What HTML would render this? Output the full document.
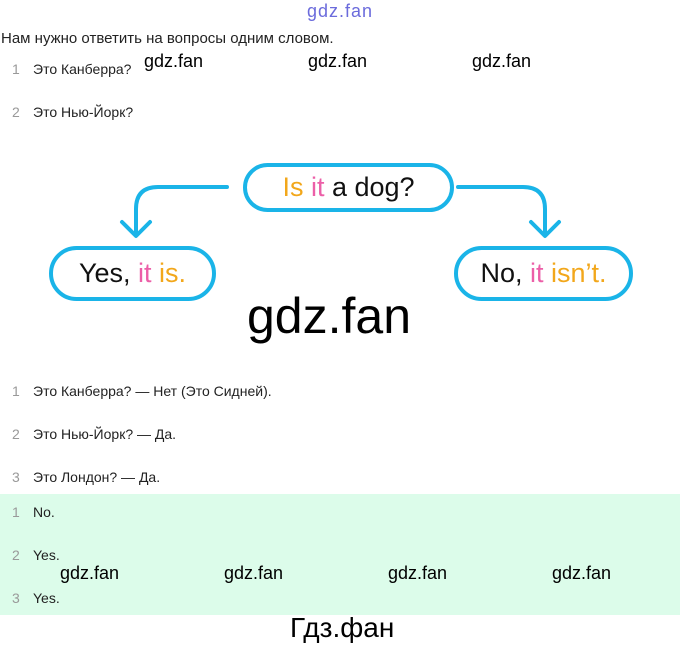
<!DOCTYPE html>
<html><head><meta charset="utf-8"><style>
body{margin:0;width:680px;height:648px;background:#fff;position:relative;overflow:hidden;font-family:"Liberation Sans","DejaVu Sans",sans-serif;color:#222}
.a{position:absolute;white-space:nowrap}
.t{font-size:14px;color:#222}
.n{font-size:14px;color:#999}
.w{font-size:18px;color:#000}
.g{position:absolute;left:0;top:494px;width:680px;height:121px;background:#dcfcea}
.p{position:absolute;border:4px solid #1ab4e8;border-radius:30px;box-sizing:border-box;font-size:27px;color:#111;text-align:center}
.o{color:#f2a71b}.k{color:#ec5fa8}
</style></head><body>
<div class="a" style="left:307px;top:1px;font-size:18px;color:#6b6bdc;letter-spacing:1px">gdz.fan</div>
<div class="a t" style="left:1px;top:30px;font-size:15px">Нам нужно ответить на вопросы одним словом.</div>
<div class="a n" style="left:12px;top:61px">1</div><div class="a t" style="left:33px;top:61px">Это Канберра?</div>
<div class="a n" style="left:12px;top:104px">2</div><div class="a t" style="left:33px;top:104px">Это Нью-Йорк?</div>
<div class="a w" style="left:144px;top:51px">gdz.fan</div>
<div class="a w" style="left:308px;top:51px">gdz.fan</div>
<div class="a w" style="left:472px;top:51px">gdz.fan</div>

<div class="p" style="left:243px;top:163px;width:211px;height:49px;line-height:41px"><span class="o">Is</span> <span class="k">it</span> a dog?</div>
<div class="p" style="left:49px;top:246px;width:167px;height:55px;line-height:47px">Yes, <span class="k">it</span> <span class="o">is.</span></div>
<div class="p" style="left:454px;top:246px;width:179px;height:55px;line-height:47px">No, <span class="k">it</span> <span class="o">isn’t.</span></div>
<svg class="a" style="left:0;top:0" width="680" height="648">
<g fill="none" stroke="#1ab4e8" stroke-width="4" stroke-linecap="round" stroke-linejoin="round">
<path d="M227 187 H158 Q136 187 136 209 V235"/><path d="M122 222 L136 236 L150 222"/>
<path d="M458 187 H523 Q545 187 545 209 V235"/><path d="M531 222 L545 236 L559 222"/>
</g></svg>
<div class="a" style="left:247px;top:287px;font-size:50px;color:#000">gdz.fan</div>

<div class="a n" style="left:12px;top:383px">1</div><div class="a t" style="left:33px;top:383px">Это Канберра? — Нет (Это Сидней).</div>
<div class="a n" style="left:12px;top:426px">2</div><div class="a t" style="left:33px;top:426px">Это Нью-Йорк? — Да.</div>
<div class="a n" style="left:12px;top:469px">3</div><div class="a t" style="left:33px;top:469px">Это Лондон? — Да.</div>
<div class="g"></div>
<div class="a n" style="left:12px;top:504px">1</div><div class="a t" style="left:33px;top:504px">No.</div>
<div class="a n" style="left:12px;top:547px">2</div><div class="a t" style="left:33px;top:547px">Yes.</div>
<div class="a n" style="left:12px;top:590px">3</div><div class="a t" style="left:33px;top:590px">Yes.</div>
<div class="a w" style="left:60px;top:563px">gdz.fan</div>
<div class="a w" style="left:224px;top:563px">gdz.fan</div>
<div class="a w" style="left:388px;top:563px">gdz.fan</div>
<div class="a w" style="left:552px;top:563px">gdz.fan</div>
<div class="a" style="left:290px;top:612px;font-size:28px;color:#000">Гдз.фан</div>
</body></html>
